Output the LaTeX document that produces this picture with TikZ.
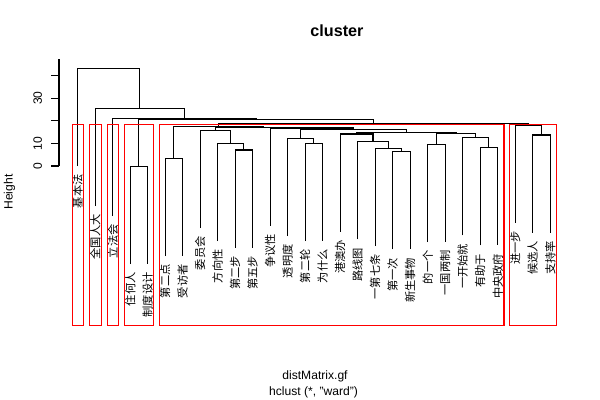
\documentclass[tikz,border=0pt]{standalone}
\usepackage{fontspec}
\setmainfont{Liberation Sans}
\newfontfamily\cjk{Noto Sans CJK SC}
\usepackage{tikz}
\usetikzlibrary{calc}
\tikzset{
  leaflab/.style={rotate=90, anchor=east, inner sep=0pt, font=\cjk\fontsize{8}{8}\selectfont},
  axlab/.style={inner sep=0pt, font=\fontsize{8.6}{9}\selectfont},
  tree/.style={line width=0.75pt},
  redbox/.style={draw=red, line width=0.75pt},
}

\begin{document}
\begin{tikzpicture}[x=0.025cm, y=-0.025cm]
        \useasboundingbox (0,0) rectangle (600,400);

        % leaf ends
        \coordinate (L1) at (77.7,166.1);
        \coordinate (L2) at (95.2,206.1);
        \coordinate (L3) at (112.7,216.1);
        \coordinate (L4) at (130.2,264.1);
        \coordinate (L5) at (147.7,264.1);
        \coordinate (L6) at (165.2,256.1);
        \coordinate (L7) at (182.7,256.1);
        \coordinate (L8) at (200.2,228.1);
        \coordinate (L9) at (217.7,241.1);
        \coordinate (L10) at (235.2,247.8);
        \coordinate (L11) at (252.7,247.8);
        \coordinate (L12) at (270.2,225.8);
        \coordinate (L13) at (287.7,236.1);
        \coordinate (L14) at (305.2,241.1);
        \coordinate (L15) at (322.7,241.1);
        \coordinate (L16) at (340.2,231.8);
        \coordinate (L17) at (357.7,239.5);
        \coordinate (L18) at (375.2,246.1);
        \coordinate (L19) at (392.7,249.5);
        \coordinate (L20) at (410.2,249.5);
        \coordinate (L21) at (427.7,242.1);
        \coordinate (L22) at (445.2,242.1);
        \coordinate (L23) at (462.7,235.5);
        \coordinate (L24) at (480.2,245.5);
        \coordinate (L25) at (497.7,245.5);
        \coordinate (L26) at (515.2,222.8);
        \coordinate (L27) at (532.7,232.8);
        \coordinate (L28) at (550.2,232.8);

        % merges
        \coordinate (m45) at (138.95,166.3);
        \coordinate (m67) at (173.95,158.3);
        \coordinate (m1011) at (243.95,150);
        \coordinate (m911) at (230.8,143.3);
        \coordinate (m811) at (215.5,130.3);
        \coordinate (m1415) at (313.95,143.3);
        \coordinate (m1315) at (300.8,138.3);
        \coordinate (m1920) at (401.45,151.7);
        \coordinate (m1820) at (388.3,148.3);
        \coordinate (m1720) at (373,141.7);
        \coordinate (m1620) at (356.6,134);
        \coordinate (m2122) at (436.45,144.3);
        \coordinate (m2425) at (488.95,147.7);
        \coordinate (m2325) at (475.8,137.7);
        \coordinate (m2125) at (456.1,133.8);
        \coordinate (m1625) at (406.35,132.7);
        \coordinate (m1325) at (353.6,129.3);
        \coordinate (m1225) at (311.9,128);
        \coordinate (m825) at (263.7,127.4);
        \coordinate (m625) at (218.8,126.8);
        \coordinate (m2728) at (541.45,135);
        \coordinate (m2628) at (528.3,125);
        \coordinate (m628) at (373.55,123.7);
        \coordinate (m428) at (256.25,119.3);
        \coordinate (m328) at (184.5,118.3);
        \coordinate (m228) at (139.85,108.3);
        \coordinate (m128) at (108.8,68.3);

        \draw[tree] (L4) |- (m45) -| (L5);
        \draw[tree] (L6) |- (m67) -| (L7);
        \draw[tree] (L10) |- (m1011) -| (L11);
        \draw[tree] (L9) |- (m911) -| (m1011);
        \draw[tree] (L8) |- (m811) -| (m911);
        \draw[tree] (L14) |- (m1415) -| (L15);
        \draw[tree] (L13) |- (m1315) -| (m1415);
        \draw[tree] (L19) |- (m1920) -| (L20);
        \draw[tree] (L18) |- (m1820) -| (m1920);
        \draw[tree] (L17) |- (m1720) -| (m1820);
        \draw[tree] (L16) |- (m1620) -| (m1720);
        \draw[tree] (L21) |- (m2122) -| (L22);
        \draw[tree] (L24) |- (m2425) -| (L25);
        \draw[tree] (L23) |- (m2325) -| (m2425);
        \draw[tree] (m2122) |- (m2125) -| (m2325);
        \draw[tree] (m1620) |- (m1625) -| (m2125);
        \draw[tree] (m1315) |- (m1325) -| (m1625);
        \draw[tree] (L12) |- (m1225) -| (m1325);
        \draw[tree] (m811) |- (m825) -| (m1225);
        \draw[tree] (m67) |- (m625) -| (m825);
        \draw[tree] (L27) |- (m2728) -| (L28);
        \draw[tree] (L26) |- (m2628) -| (m2728);
        \draw[tree] (m625) |- (m628) -| (m2628);
        \draw[tree] (m45) |- (m428) -| (m628);
        \draw[tree] (L3) |- (m328) -| (m428);
        \draw[tree] (L2) |- (m228) -| (m328);
        \draw[tree] (L1) |- (m128) -| (m228);

        % leaf labels
        \node[leaflab] (t1) at ($(L1)+(0,8)$) {基本法};
        \node[leaflab] (t2) at ($(L2)+(0,8)$) {全国人大};
        \node[leaflab] (t3) at ($(L3)+(0,8)$) {立法会};
        \node[leaflab] (t4) at ($(L4)+(0,8)$) {住何人};
        \node[leaflab] (t5) at ($(L5)+(0,8)$) {制度设计};
        \node[leaflab] (t6) at ($(L6)+(0,8)$) {第二点};
        \node[leaflab] (t7) at ($(L7)+(0,8)$) {受访者};
        \node[leaflab] (t8) at ($(L8)+(0,8)$) {委员会};
        \node[leaflab] (t9) at ($(L9)+(0,8)$) {方向性};
        \node[leaflab] (t10) at ($(L10)+(0,8)$) {第二步};
        \node[leaflab] (t11) at ($(L11)+(0,8)$) {第五步};
        \node[leaflab] (t12) at ($(L12)+(0,8)$) {争议性};
        \node[leaflab] (t13) at ($(L13)+(0,8)$) {透明度};
        \node[leaflab] (t14) at ($(L14)+(0,8)$) {第二轮};
        \node[leaflab] (t15) at ($(L15)+(0,8)$) {为什么};
        \node[leaflab] (t16) at ($(L16)+(0,8)$) {港澳办};
        \node[leaflab] (t17) at ($(L17)+(0,8)$) {路线图};
        \node[leaflab] (t18) at ($(L18)+(0,8)$) {一第七条};
        \node[leaflab] (t19) at ($(L19)+(0,8)$) {第一次};
        \node[leaflab] (t20) at ($(L20)+(0,8)$) {新生事物};
        \node[leaflab] (t21) at ($(L21)+(0,8)$) {的一个};
        \node[leaflab] (t22) at ($(L22)+(0,8)$) {一国两制};
        \node[leaflab] (t23) at ($(L23)+(0,8)$) {一开始就};
        \node[leaflab] (t24) at ($(L24)+(0,8)$) {有助于};
        \node[leaflab] (t25) at ($(L25)+(0,8)$) {中央政府};
        \node[leaflab] (t26) at ($(L26)+(0,8)$) {进一步};
        \node[leaflab] (t27) at ($(L27)+(0,8)$) {候选人};
        \node[leaflab] (t28) at ($(L28)+(0,8)$) {支持率};

        % cut boxes
        \draw[redbox] (72.3,124.3) rectangle (83.3,325.8);
        \draw[redbox] (89.3,124.3) rectangle (101.3,325.8);
        \draw[redbox] (107.3,124.3) rectangle (118.3,325.8);
        \draw[redbox] (124.3,124.3) rectangle (153.3,325.8);
        \draw[redbox] (159.3,124.3) rectangle (504,325.8);
        \draw[redbox] (509.3,124.3) rectangle (556.7,325.8);

        % axis
        \draw[tree] (59,166) -- (59,59.3);
        \draw[tree] (51,166) -- (59,166);
        \draw[tree] (51,143.4) -- (59,143.4);
        \draw[tree] (51,120.8) -- (59,120.8);
        \draw[tree] (51,98.2) -- (59,98.2);
        \draw[tree] (51,75.6) -- (59,75.6);
        \node[axlab, rotate=90] (y0) at (37.7,166) {0};
        \node[axlab, rotate=90] (y10) at (37.7,143.4) {10};
        \node[axlab, rotate=90] (y30) at (37.7,98.2) {30};
        \node[axlab, rotate=90] (ylab) at (9.5,192) {Height};

        \node[inner sep=0pt, font=\bfseries\fontsize{11.5}{12}\selectfont] (title) at (337,31) {cluster};
        \node[axlab] (xlab) at (315,376.7) {distMatrix.gf};
        \node[axlab] (sub) at (313.5,392.3) {hclust (*, "ward")};
    \end{tikzpicture}
\end{document}
